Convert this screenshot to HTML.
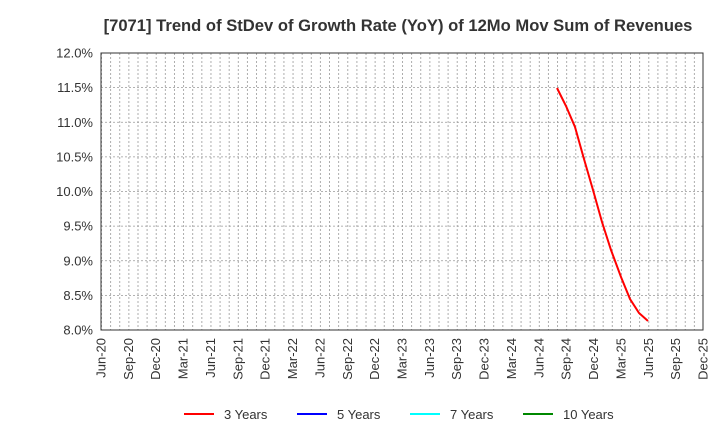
<!DOCTYPE html>
<html><head><style>body{margin:0;background:#fff}</style></head><body>
<svg width="720" height="440" xmlns="http://www.w3.org/2000/svg" font-family="Liberation Sans, sans-serif">
<defs>
<pattern id="vg" x="101" y="53" width="9.12121" height="277" patternUnits="userSpaceOnUse">
<line x1="0.5" y1="0" x2="0.5" y2="277" stroke="#999" stroke-width="0.8" stroke-dasharray="2,2"/>
</pattern>
</defs>
<rect width="720" height="440" fill="#fff"/>
<text x="398" y="31" text-anchor="middle" font-size="16.6" font-weight="bold" fill="#333">[7071]  Trend of StDev of Growth Rate (YoY) of 12Mo Mov Sum of Revenues</text>
<rect x="101" y="53" width="602" height="277" fill="url(#vg)"/>
<g stroke="#999" stroke-width="0.8" stroke-dasharray="2,2">
<line x1="101" y1="87.6" x2="703" y2="87.6"/>
<line x1="101" y1="122.25" x2="703" y2="122.25"/>
<line x1="101" y1="156.9" x2="703" y2="156.9"/>
<line x1="101" y1="191.5" x2="703" y2="191.5"/>
<line x1="101" y1="226.1" x2="703" y2="226.1"/>
<line x1="101" y1="260.75" x2="703" y2="260.75"/>
<line x1="101" y1="295.4" x2="703" y2="295.4"/>
</g>
<rect x="101" y="53" width="602" height="277" fill="none" stroke="#333" stroke-width="1"/>
<g font-size="13" fill="#333" text-anchor="end">
<text x="93" y="57.5">12.0%</text>
<text x="93" y="92.1">11.5%</text>
<text x="93" y="126.8">11.0%</text>
<text x="93" y="161.4">10.5%</text>
<text x="93" y="196">10.0%</text>
<text x="93" y="230.6">9.5%</text>
<text x="93" y="265.3">9.0%</text>
<text x="93" y="299.9">8.5%</text>
<text x="93" y="334.5">8.0%</text>
</g>
<g font-size="13" fill="#333" text-anchor="end">
<text transform="translate(105.5,338) rotate(-90)">Jun-20</text>
<text transform="translate(132.9,338) rotate(-90)">Sep-20</text>
<text transform="translate(160.2,338) rotate(-90)">Dec-20</text>
<text transform="translate(187.6,338) rotate(-90)">Mar-21</text>
<text transform="translate(215,338) rotate(-90)">Jun-21</text>
<text transform="translate(242.3,338) rotate(-90)">Sep-21</text>
<text transform="translate(269.7,338) rotate(-90)">Dec-21</text>
<text transform="translate(297,338) rotate(-90)">Mar-22</text>
<text transform="translate(324.4,338) rotate(-90)">Jun-22</text>
<text transform="translate(351.8,338) rotate(-90)">Sep-22</text>
<text transform="translate(379.1,338) rotate(-90)">Dec-22</text>
<text transform="translate(406.5,338) rotate(-90)">Mar-23</text>
<text transform="translate(433.9,338) rotate(-90)">Jun-23</text>
<text transform="translate(461.2,338) rotate(-90)">Sep-23</text>
<text transform="translate(488.6,338) rotate(-90)">Dec-23</text>
<text transform="translate(516,338) rotate(-90)">Mar-24</text>
<text transform="translate(543.3,338) rotate(-90)">Jun-24</text>
<text transform="translate(570.7,338) rotate(-90)">Sep-24</text>
<text transform="translate(598,338) rotate(-90)">Dec-24</text>
<text transform="translate(625.4,338) rotate(-90)">Mar-25</text>
<text transform="translate(652.8,338) rotate(-90)">Jun-25</text>
<text transform="translate(680.1,338) rotate(-90)">Sep-25</text>
<text transform="translate(707.5,338) rotate(-90)">Dec-25</text>
</g>
<polyline fill="none" stroke="#f00" stroke-width="2" points="557,88 566,106 575,127 584,159 593,190 602,222 611,250 621,277 630,299 639,313 648,321"/>
<g font-size="13" fill="#333">
<line x1="184" y1="414" x2="214" y2="414" stroke="#f00" stroke-width="2"/><text x="224" y="419">3 Years</text>
<line x1="297" y1="414" x2="327" y2="414" stroke="#00f" stroke-width="2"/><text x="337" y="419">5 Years</text>
<line x1="410" y1="414" x2="440" y2="414" stroke="#0ff" stroke-width="2"/><text x="450" y="419">7 Years</text>
<line x1="523" y1="414" x2="553" y2="414" stroke="#080" stroke-width="2"/><text x="563" y="419">10 Years</text>
</g>
</svg>
</body></html>
